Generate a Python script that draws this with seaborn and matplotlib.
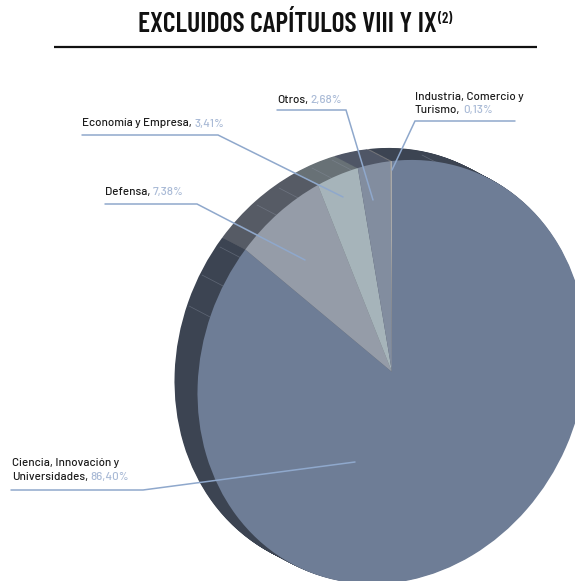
import matplotlib
matplotlib.use("Agg")
import matplotlib.pyplot as plt
from matplotlib.transforms import Affine2D
import seaborn as sns

W, H = 575, 581

# data
categories = ["Ciencia, Innovación y Universidades", "Defensa", "Economía y Empresa", "Otros",
              "Industria, Comercio y Turismo"]
values = [86.40, 7.38, 3.41, 2.68, 0.13]
value_labels = ["86,40%", "7,38%", "3,41%", "2,68%", "0,13%"]
title_text = "EXCLUIDOS CAPÍTULOS VIII Y IX"
title_note = "(2)"

front_colors = ["#6e7d96", "#959ca8", "#a6b4ba", "#828d9f", "#a9a9a9"]
rim_colors = ["#3c4452", "#565b65", "#687176", "#4f5666", "#77787c"]
leader_color = "#8fa8cc"
pct_color = "#a9bad6"
ink = "#1c1c1c"

# label text lines (black part; the value follows the last line) and anchor px
label_lines = [["Ciencia, Innovación y", "Universidades,"], ["Defensa,"], ["Economía y Empresa,"],
               ["Otros,"], ["Industria, Comercio y", "Turismo,"]]
label_anchor = [(12, 463.5), (105, 192.5), (82, 123.5), (277, 100.5), (415, 96.5)]
leaders = [[(11, 490), (143, 490), (355, 462)],
           [(105, 204), (197, 204), (305, 260)],
           [(82, 135), (218, 135), (343, 197)],
           [(277, 110), (346, 110), (373, 200)],
           [(515, 121), (415, 121), (392, 170)]]
facet_points = [(212, 318), (225, 287), (243, 259), (262, 237), (280, 217), (302, 200),
                (335, 180), (355, 172), (445, 167)]

sns.set_theme(style="white")
plt.rcParams["font.family"] = ["Barlow", "Roboto", "DejaVu Sans"]

fig = plt.figure(figsize=(W / 100, H / 100), dpi=100)
ax = fig.add_axes([0, 0, 1, 1])


def Y(y):
    return H - y


cx, cy = 392.0, 372.0
px_x, px_skew, px_y = 194.5, 21.3, 211.0
depth_x, depth_y = -23.0, -12.0
steps = 28


def draw_disc(colors, dx, dy, z):
    wedges, _ = ax.pie(values, colors=colors, startangle=90, counterclock=False,
                       center=(0, 0), radius=1, frame=False,
                       wedgeprops=dict(linewidth=0.3, edgecolor="none"))
    tr = Affine2D.from_values(px_x, px_skew, 0, px_y, cx + dx, Y(cy + dy)) + ax.transData
    for w in wedges:
        w.set_transform(tr)
        w.set_zorder(z)
    return wedges


for i in range(steps, 0, -1):
    f = i / steps
    draw_disc(rim_colors, depth_x * f, depth_y * f, 1 + (steps - i) * 0.01)

draw_disc(front_colors, 0, 0, 3)

ax.set_xlim(0, W)
ax.set_ylim(0, H)
ax.set_aspect("auto")
ax.set_axis_off()

for (x, y) in facet_points:
    ax.plot([x, x + depth_x], [Y(y), Y(y + depth_y)], color="#8b93a3", lw=0.5, alpha=0.45, zorder=2.5)

for pts in leaders:
    ax.plot([p[0] for p in pts], [Y(p[1]) for p in pts], color=leader_color, lw=1.1, zorder=5,
            solid_joinstyle="miter")

# title and rule
title_family = ["Barlow Condensed", "Roboto", "DejaVu Sans"]
ax.plot([54, 537], [Y(46.5), Y(46.5)], color="#111111", lw=1.6, zorder=5, solid_capstyle="butt")
title = ax.text(138, Y(31.5), title_text, fontsize=20, fontweight="semibold", color="#111111",
                family=title_family, ha="left", va="baseline", zorder=6)
fig.canvas.draw()
rend = fig.canvas.get_renderer()
bb = title.get_window_extent(rend)
ax.text(bb.x1 + 1, Y(23), title_note, fontsize=10.5, fontweight="semibold", color="#111111",
        family=title_family, ha="left", va="baseline", zorder=6)

# labels
fs = 8.4
for lines, val, (x, y) in zip(label_lines, value_labels, label_anchor):
    for k, line in enumerate(lines):
        t = ax.text(x, Y(y + 13.2 * k), line, fontsize=fs, color=ink, fontweight="medium",
                    ha="left", va="center", zorder=6)
    b = t.get_window_extent(rend)
    ax.text(b.x1 + 2.5, Y(y + 13.2 * (len(lines) - 1)), val, fontsize=fs, color=pct_color,
            fontweight="medium", ha="left", va="center", zorder=6)

fig.savefig("out.png", dpi=100, facecolor="white")
